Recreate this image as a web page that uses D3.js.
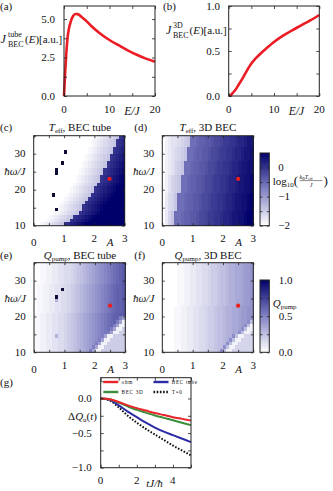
<!DOCTYPE html>
<html>
<head>
<meta charset="utf-8">
<script src="https://cdn.jsdelivr.net/npm/d3@7"></script>
<style>
  body { margin: 0; background: #fff; }
  svg text { font-family: "Liberation Serif", "DejaVu Serif", serif; fill: #111; }
</style>
</head>
<body>
<svg id="fig" width="333" height="491" font-family="Liberation Serif, DejaVu Serif, serif"></svg>
<script>
// (a) BEC tube spectral density, (b) 3D BEC spectral density
const energyTube = [0, 0.25, 0.5, 0.75, 1, 1.5, 2, 2.5, 3, 4, 5, 6, 8, 10, 12, 14, 16, 18, 20];
const jTube = [0, 1.5, 2.75, 3.7, 4.25, 4.85, 5.2, 5.33, 5.32, 5.1, 4.85, 4.55, 4.05, 3.64, 3.3, 2.97, 2.68, 2.43, 2.23];
const energy3d = [0, 0.5, 1, 1.5, 2, 2.5, 3, 4, 5, 6, 7, 8, 10, 12, 14, 16, 18, 20];
const j3d = [0, 0.012, 0.04, 0.07, 0.11, 0.15, 0.19, 0.28, 0.36, 0.42, 0.47, 0.515, 0.6, 0.67, 0.73, 0.785, 0.84, 0.9];

// heatmap grid: 30 columns in A (0..3), 25 rows in hbar*omega/J (35 at top .. 10 at bottom)
// cell level is one base-36 digit 0..z (0 = low end, z = high end), "#" lies above the range;
// "c*n" repeats c n times
const ampRange = [0, 3];
const omegaRange = [10, 35];
const teffTube = [
  "0*20 12345678 st",
  "0*19 12345678 stu",
  "0*19 12345678 stu",
  "0*18 12345678 stuv",
  "0*10 # 0*7 12345678 stuv",
  "0*17 12345678 stuvw",
  "0*17 12345678 stuvw",
  "0*9 # 0*6 12345678 stuvwx",
  "0*16 12345678 stuvwx",
  "0*7 # 0*7 12345678 stuvwxy",
  "0*7 # 0*7 12345678 stuvwxy",
  "0*14 12345678 stuvwxyz",
  "0*14 12345678 stuvwxyz",
  "0*13 12345678 stuvwxy z*2",
  "0*12 12345678 stuvwxy z*3",
  "0*12 12345678 stuvwxy z*3",
  "0*6 # 0*4 12345678 stuvwxy z*4",
  "0*10 12345678 stuvwxy z*5",
  "0*9 12345678 stuvwxy z*6",
  "0*8 12345678 stuvwxy z*7",
  "0*7 # 12345678 stuvwxy z*7",
  "0*7 12345678 stuvwxy z*8",
  "0*5 12345678 stuvwxy z*10",
  "0*4 12345678 stuvwxy z*11",
  "0*2 12345678 stuvwxy z*13"
];
const teffBulk = [
  "023445678 kklmmnnoppqrrsstuuvww",
  "023445678 kklmmnnoppqrrsstuuvww",
  "023445678 kklmmnnoppqrrsstuuvww",
  "02345678 kklmmnnoppqrrsstuuvwwx",
  "02345678 kklmmnnoppqrrsstuuvwwx",
  "02345678 kklmmnnoppqrrsstuuvwwx",
  "02345678 kklmmnnoppqrrsstuuvwwx",
  "0234678 kklmmnnoppqrrsstuuvwwxx",
  "0234678 kklmmnnoppqrrsstuuvwwxx",
  "0234678 kklmmnnoppqrrsstuuvwwxx",
  "0234678 kklmmnnoppqrrsstuuvwwxx",
  "024678 kklmmnnoppqrrsstuuvwwxxy",
  "024678 kklmmnnoppqrrsstuuvwwxxy",
  "024678 kklmmnnoppqrrsstuuvwwxxy",
  "024678 kklmmnnoppqrrsstuuvwwxxy",
  "024678 kklmmnnoppqrrsstuuvwwxxy",
  "03568 kklmmnnoppqrrsstuuvwwxxyz",
  "03568 kklmmnnoppqrrsstuuvwwxxyz",
  "03568 kklmmnnoppqrrsstuuvwwxxyz",
  "03568 kklmmnnoppqrrsstuuvwwxxyz",
  "03568 kklmmnnoppqrrsstuuvwwxxyz",
  "0368 kklmmnnoppqrrsstuuvwwxxyzz",
  "0368 kklmmnnoppqrrsstuuvwwxxyzz",
  "0368 kklmmnnoppqrrsstuuvwwxxyzz",
  "0368 kklmmnnoppqrrsstuuvwwxxyzz"
];
const qTube = [
  "0011223344556789abcdefghijklmn",
  "0011223344556789abcdefghijklmn",
  "0011223344556789abcdefghijklmn",
  "0011223344556789abcdefghijklmn",
  "0011223344556789abcdefghijklmn",
  "0011223344556789abcdefghijklmn",
  "011223344556789abcdefghijklmmn",
  "011223344 # 56789abcdefghijklmmn",
  "011223344556789abcdefghijklmmn",
  "0112233 # 4556789abcdefghijklmmn",
  "0112233 b 4556789abcdefghijklmmn",
  "011223344556789abcdefghijklmmn",
  "011223344556789abcdefghijklmmn",
  "011223344556789abcdefghijklmmn",
  "11223344556789abcdefghijklmmnn",
  "11223344556789abcdefghijklmm id",
  "11223344556789abcdefghijklm id2",
  "11223344556789abcdefghijkl id22",
  "11223344556789abcdefghijk id227",
  "11223344556789abcdefghij id2277",
  "1122334b556789abcdefgh id227777",
  "11223344556789abcdefg id2277777",
  "11223344556789abcdef id22777777",
  "11223344556789abcde id227777777",
  "11223344556789abcd id2277777777"
];
const qBulk = [
  "000001122334455677899abbccdeef",
  "000001122334455677899abbccdeef",
  "000001122334455677899abbccdeef",
  "000001122334455677899abbccdeef",
  "000001122334455677899abbccdeef",
  "000001122334455677899abbccdeef",
  "000001122334455677899abbccdeef",
  "000001122334455677899abbccdeef",
  "000001122334455677899abbccdeef",
  "000001122334455677899abbccdeef",
  "000001122334455677899abbccdeef",
  "000001122334455677899abbccdeef",
  "00001122334455677899abbccdeeff",
  "00001122334455677899abbccdeeff",
  "00001122334455677899abbccdeeff",
  "00001122334455677899abbccdeeff",
  "00001122334455677899abbccdee g9",
  "00001122334455677899abbccde g92",
  "00001122334455677899abbccd g922",
  "00001122334455677899abbcc g9226",
  "00001122334455677899abb g922666",
  "00001122334455677899ab g9226666",
  "00001122334455677899a g92266666",
  "00001122334455677899 g922666666",
  "0000112233445567789 g9226666666"
];
const teffRange = [-2, 0.5];
const qRange = [0, 1];
const workingPoint = { A: 2.5, omega: 23 };

// (g) pumped charge vs time
const time = [0, 0.5, 1, 1.5, 2, 2.5, 3, 3.5, 4, 4.5, 5];
const dqOhm = [0, -0.01, -0.05, -0.1, -0.14, -0.175, -0.21, -0.24, -0.27, -0.295, -0.32];
const dq3d = [0, -0.012, -0.06, -0.115, -0.165, -0.205, -0.245, -0.28, -0.315, -0.35, -0.385];
const dqTube = [0, -0.02, -0.1, -0.19, -0.27, -0.35, -0.42, -0.48, -0.53, -0.58, -0.63];
const dqZeroT = [0, -0.03, -0.13, -0.25, -0.35, -0.44, -0.52, -0.6, -0.68, -0.75, -0.82];

const svg = d3.select("#fig");
const ink = "#222";
const red = "#ec1c24";

function panel(box, xDom, yDom) {
  return {
    box,
    x: d3.scaleLinear().domain(xDom).range([box.x0, box.x1]),
    y: d3.scaleLinear().domain(yDom).range([box.y1, box.y0])
  };
}

function frame(p, xt, yt, len = 3) {
  const { x0, x1, y0, y1 } = p.box;
  const g = svg.append("g");
  g.append("g").attr("transform", `translate(0,${y1})`)
    .call(d3.axisBottom(p.x).tickValues(xt).tickSize(-len).tickFormat(""));
  g.append("g").attr("transform", `translate(0,${y0})`)
    .call(d3.axisTop(p.x).tickValues(xt).tickSize(-len).tickFormat(""));
  g.append("g").attr("transform", `translate(${x0},0)`)
    .call(d3.axisLeft(p.y).tickValues(yt).tickSize(-len).tickFormat(""));
  g.append("g").attr("transform", `translate(${x1},0)`)
    .call(d3.axisRight(p.y).tickValues(yt).tickSize(-len).tickFormat(""));
  g.selectAll(".domain").remove();
  g.selectAll("line").attr("stroke", ink).attr("stroke-width", 0.8);
  svg.append("rect").attr("x", x0).attr("y", y0)
    .attr("width", x1 - x0).attr("height", y1 - y0)
    .attr("fill", "none").attr("stroke", ink).attr("stroke-width", 1);
}

function label(x, y, str, o = {}) {
  const t = svg.append("text").attr("x", x).attr("y", y)
    .attr("font-size", o.size || 11)
    .attr("text-anchor", o.anchor || "start")
    .text(str);
  if (o.italic) t.attr("font-style", "italic");
  return t;
}

// parts: [text, {it, size, dy}]
function rich(x, y, parts, o = {}) {
  const t = svg.append("text").attr("x", x).attr("y", y)
    .attr("font-size", o.size || 11)
    .attr("text-anchor", o.anchor || "start");
  parts.forEach(([s, f = {}]) => {
    const sp = t.append("tspan").text(s);
    if (f.it) sp.attr("font-style", "italic");
    if (f.size) sp.attr("font-size", f.size);
    if (f.dy) sp.attr("dy", f.dy);
  });
  return t;
}

const decode = row => row.split(" ").flatMap(tok => {
  if (tok.includes("*")) {
    const [ch, n] = tok.split("*");
    return Array(+n).fill(ch);
  }
  return tok.split("");
}).map(ch => ch === "#" ? 38 : parseInt(ch, 36));

function colorFor(range) {
  const [lo, hi] = range;
  return d3.scaleLinear()
    .domain([lo, (lo + hi) / 2, hi, hi + (hi - lo) / 12])
    .range(["#ffffff", "#8282c4", "#00006a", "#0c0c36"])
    .clamp(true);
}

function heatmap(p, rows, range) {
  const color = colorFor(range);
  const nCols = 30;
  const dA = (ampRange[1] - ampRange[0]) / nCols;
  const dW = (omegaRange[1] - omegaRange[0]) / rows.length;
  const cells = [];
  rows.forEach((row, r) => decode(row).slice(0, nCols).forEach((k, c) => {
    cells.push({
      a: ampRange[0] + c * dA,
      w: omegaRange[1] - (r + 1) * dW,
      v: range[0] + k / 35 * (range[1] - range[0])
    });
  }));
  svg.append("g").selectAll("rect").data(cells).join("rect")
    .attr("x", d => p.x(d.a))
    .attr("y", d => p.y(d.w + dW))
    .attr("width", p.x(dA) - p.x(0) + 0.4)
    .attr("height", p.y(omegaRange[0]) - p.y(omegaRange[0] + dW) + 0.4)
    .attr("fill", d => color(d.v))
    .attr("shape-rendering", "crispEdges");
  svg.append("circle")
    .attr("cx", p.x(workingPoint.A)).attr("cy", p.y(workingPoint.omega))
    .attr("r", 2.1).attr("fill", "#ee1c1c");
}

function colorbar(box, range, ticks, id) {
  const color = colorFor(range);
  const grad = svg.append("defs").append("linearGradient").attr("id", id)
    .attr("x1", 0).attr("y1", 1).attr("x2", 0).attr("y2", 0);
  d3.range(0, 1.001, 0.1).forEach(f => {
    grad.append("stop").attr("offset", f)
      .attr("stop-color", color(range[0] + f * (range[1] - range[0])));
  });
  svg.append("rect").attr("x", box.x0).attr("y", box.y0)
    .attr("width", box.x1 - box.x0).attr("height", box.y1 - box.y0)
    .attr("fill", `url(#${id})`);
  const p = panel(box, [0, 1], range);
  const g = svg.append("g");
  g.append("g").attr("transform", `translate(${box.x0},0)`)
    .call(d3.axisLeft(p.y).tickValues(ticks).tickSize(-2.5).tickFormat(""));
  g.append("g").attr("transform", `translate(${box.x1},0)`)
    .call(d3.axisRight(p.y).tickValues(ticks).tickSize(-2.5).tickFormat(""));
  g.selectAll(".domain").remove();
  g.selectAll("line").attr("stroke", ink).attr("stroke-width", 0.8);
  svg.append("rect").attr("x", box.x0).attr("y", box.y0)
    .attr("width", box.x1 - box.x0).attr("height", box.y1 - box.y0)
    .attr("fill", "none").attr("stroke", ink).attr("stroke-width", 1);
  return p;
}

function curve(p, xs, ys, color, width, dash) {
  const path = svg.append("path")
    .datum(xs.map((x, i) => [x, ys[i]]))
    .attr("fill", "none").attr("stroke", color).attr("stroke-width", width)
    .attr("stroke-linejoin", "round")
    .attr("d", d3.line().x(d => p.x(d[0])).y(d => p.y(d[1])).curve(d3.curveMonotoneX));
  if (dash) path.attr("stroke-dasharray", dash);
  return path;
}

// ---------- (a) ----------
const pa = panel({ x0: 64, x1: 155, y0: 6, y1: 96 }, [0, 20], [0, 5.85]);
curve(pa, energyTube, jTube, red, 2.6);
frame(pa, [0, 5, 10, 15, 20], [0, 1.25, 2.5, 3.75, 5]);
[[5, "5.0"], [2.5, "2.5"], [0, "0.0"]].forEach(([v, s]) => label(55, pa.y(v) + 3.7, s, { anchor: "end" }));
[[0, "0"], [10, "10"], [20, "20"]].forEach(([v, s]) => label(pa.x(v), 112.5, s, { anchor: "middle" }));
label(132, 115, "E/J", { anchor: "middle", italic: true, size: 11.5 });
label(0, 10, "(a)");
label(0.5, 43, "J", { italic: true, size: 12 });
label(8, 36.5, "tube", { size: 8 });
label(8, 46.5, "BEC", { size: 8 });
rich(25, 43, [["("], ["E", { it: true }], [")[a.u.]"]]);

// ---------- (b) ----------
const pb = panel({ x0: 228.7, x1: 319.3, y0: 6, y1: 96 }, [0, 20], [0, 1]);
curve(pb, energy3d, j3d, red, 2.6);
frame(pb, [0, 5, 10, 15, 20], [0, 0.25, 0.5, 0.75, 1]);
[[1, "1.0"], [0.5, "0.5"], [0, "0.0"]].forEach(([v, s]) => label(220, pb.y(v) + 3.7, s, { anchor: "end" }));
[[0, "0"], [10, "10"], [20, "20"]].forEach(([v, s]) => label(pb.x(v), 112.5, s, { anchor: "middle" }));
label(296.5, 115, "E/J", { anchor: "middle", italic: true, size: 11.5 });
label(163, 10, "(b)");
label(166, 34, "J", { italic: true, size: 12 });
label(173, 27.5, "3D", { size: 8 });
label(173, 37.5, "BEC", { size: 8 });
rich(189.5, 34, [["("], ["E", { it: true }], [")[a.u.]"]]);

// ---------- heatmaps ----------
function heatAxes(p, yLabX, xBase, aX) {
  frame(p, [0, 0.5, 1, 1.5, 2, 2.5, 3], [10, 15, 20, 25, 30, 35], 2.5);
  [[30, "30"], [20, "20"], [10, "10"]].forEach(([v, s]) => label(yLabX, p.y(v) + 3.7, s, { anchor: "end" }));
  label(yLabX, p.y(25) + 3.2, "ħω/J", { anchor: "end", italic: true });
  label(p.x(0), xBase + 4, "0", { anchor: "middle" });
  [[1, "1"], [2, "2"], [3, "3"]].forEach(([v, s]) => label(p.x(v), xBase, s, { anchor: "middle" }));
  label(aX, xBase + 3.8, "A", { anchor: "middle", italic: true });
}

const pc = panel({ x0: 33.7, x1: 124.7, y0: 135.7, y1: 225.7 }, ampRange, omegaRange);
heatmap(pc, teffTube, teffRange);
heatAxes(pc, 25.5, 241.7, 110);
label(0, 131, "(c)");
rich(80, 131, [["T", { it: true }], ["eff", { size: 7, dy: 2 }], [", BEC tube", { dy: -2 }]], { anchor: "middle" });

const pd = panel({ x0: 162.3, x1: 253.3, y0: 135.7, y1: 225.7 }, ampRange, omegaRange);
heatmap(pd, teffBulk, teffRange);
heatAxes(pd, 154.3, 241.7, 238.7);
label(134.3, 131, "(d)");
rich(208, 131, [["T", { it: true }], ["eff", { size: 7, dy: 2 }], [", 3D BEC", { dy: -2 }]], { anchor: "middle" });

const pe = panel({ x0: 34, x1: 125.3, y0: 262.7, y1: 352.3 }, ampRange, omegaRange);
heatmap(pe, qTube, qRange);
heatAxes(pe, 25.8, 369.4, 110.7);
label(0, 258.5, "(e)");
rich(80, 258.5, [["Q", { it: true }], ["pump", { size: 7, dy: 2 }], [", BEC tube", { dy: -2 }]], { anchor: "middle" });

const pf = panel({ x0: 162.3, x1: 253.3, y0: 262.7, y1: 352.3 }, ampRange, omegaRange);
heatmap(pf, qBulk, qRange);
heatAxes(pf, 154.3, 369.4, 238.7);
label(134.3, 258.5, "(f)");
rich(208, 258.5, [["Q", { it: true }], ["pump", { size: 7, dy: 2 }], [", 3D BEC", { dy: -2 }]], { anchor: "middle" });

// colour bars
const cb1 = colorbar({ x0: 260, x1: 269.3, y0: 153, y1: 225.7 }, teffRange, [-2, -1.5, -1, -0.5, 0], "gT");
[[0, "0"], [-1, "−1"], [-2, "−2"]].forEach(([v, s]) => label(278.3, cb1.y(v) + 3.7, s));
rich(272.7, 184.5, [["log"], ["10", { size: 7, dy: 2.5 }], ["(", { size: 13, dy: -2.5 }]]);
rich(299.5, 178.5, [["k", { it: true }], ["B", { size: 4, dy: 1 }], ["T", { it: true, dy: -1 }], ["eff", { size: 4, dy: 1 }]], { size: 6 });
svg.append("line").attr("x1", 299.5).attr("x2", 322.5).attr("y1", 180.6).attr("y2", 180.6)
  .attr("stroke", ink).attr("stroke-width", 0.5);
label(311, 186.5, "J", { italic: true, size: 6, anchor: "middle" });
label(323.5, 184.5, ")", { size: 13 });

const cb2 = colorbar({ x0: 260, x1: 269.3, y0: 280, y1: 352.3 }, qRange, [0, 0.25, 0.5, 0.75, 1], "gQ");
[[1, "1.0"], [0.5, "0.5"], [0, "0.0"]].forEach(([v, s]) => label(278.7, cb2.y(v) + 3.7, s));
rich(272.7, 306.5, [["Q", { it: true }], ["pump", { size: 7, dy: 2 }]]);

// ---------- (g) ----------
const pg = panel({ x0: 100.7, x1: 191, y0: 377.7, y1: 467.7 }, [0, 5], [-1, 0.3]);
curve(pg, time, dqZeroT, "#111", 2, "1.6 1.6");
curve(pg, time, dqTube, "#2b2ba6", 2);
curve(pg, time, dq3d, "#3a8e3a", 2);
curve(pg, time, dqOhm, "#e8232a", 2);
frame(pg, [0, 1, 2, 3, 4, 5], [-1, -0.75, -0.5, -0.25, 0, 0.25]);
[[0, "0.0"], [-0.5, "−0.5"], [-1, "−1.0"]].forEach(([v, s]) => label(91.7, pg.y(v) + 3.7, s, { anchor: "end" }));
label(100.5, 484.3, "0", { anchor: "middle" });
label(136.7, 483.7, "2", { anchor: "middle" });
label(172.7, 483.7, "4", { anchor: "middle" });
label(154.5, 487, "tJ/ħ", { anchor: "middle", italic: true });
label(0, 386, "(g)");
rich(97, 419.5, [["Δ"], ["Q", { it: true }], ["u", { size: 7, dy: 2 }], ["(", { dy: -2 }], ["t", { it: true }], [")"]], { anchor: "end" });

const legendItems = [
  { name: "ohm", color: "#e8232a", x: 103.3, y: 382, dash: null },
  { name: "BEC tube", color: "#2b2ba6", x: 153.5, y: 382, dash: null },
  { name: "BEC 3D", color: "#3a8e3a", x: 103.3, y: 392, dash: null },
  { name: "T=0", color: "#111", x: 153.5, y: 392, dash: "1.6 1.6" }
];
legendItems.forEach(d => {
  const l = svg.append("line").attr("x1", d.x).attr("x2", d.x + 15)
    .attr("y1", d.y).attr("y2", d.y)
    .attr("stroke", d.color).attr("stroke-width", 2.4);
  if (d.dash) l.attr("stroke-dasharray", d.dash);
  label(d.x + 18.3, d.y + 1.8, d.name, { size: 5.2 }).attr("letter-spacing", 0.7);
});
</script>
</body>
</html>
